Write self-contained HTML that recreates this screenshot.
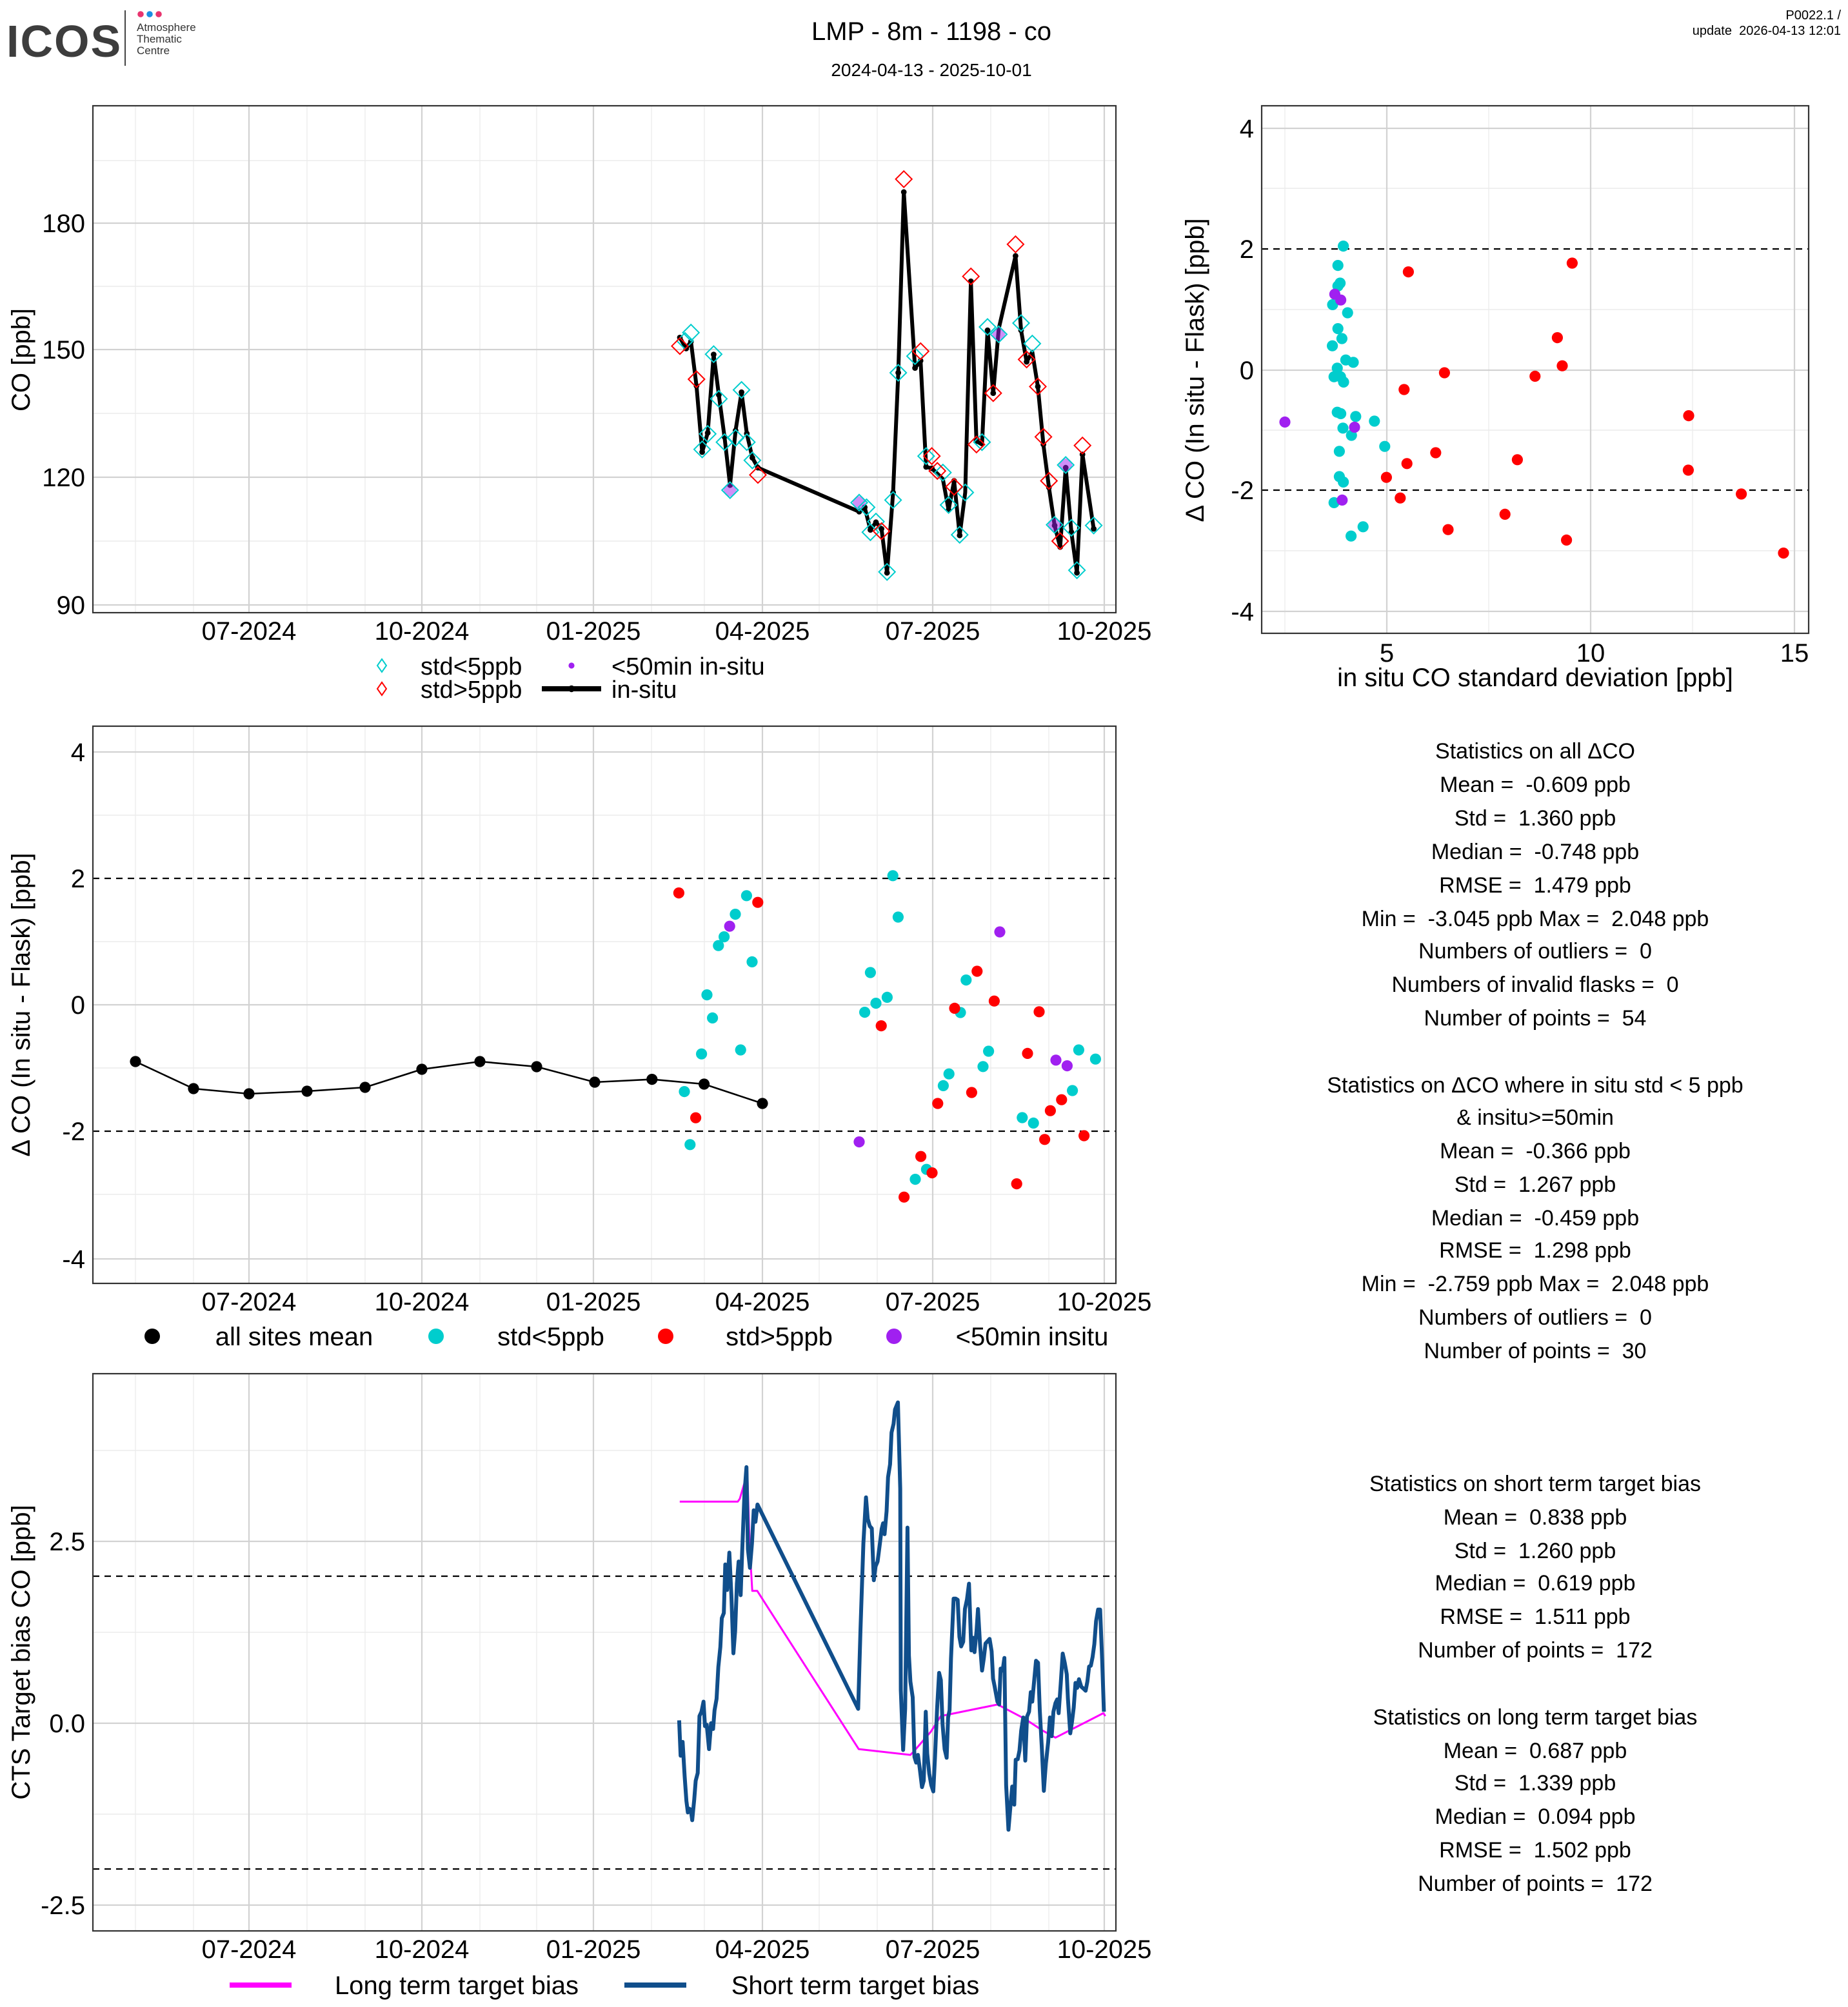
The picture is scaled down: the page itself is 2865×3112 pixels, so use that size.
<!DOCTYPE html>
<html><head><meta charset="utf-8"><style>
html,body{margin:0;padding:0;background:#fff}
svg{display:block}
text{font-family:"Liberation Sans",sans-serif;fill:#000;white-space:pre}
.tk{font-size:20px}
.ttl{font-size:20px}
.st{font-size:17px;text-anchor:middle}
.gmaj{stroke:#d2d2d2;stroke-width:1.1}
.gmin{stroke:#ececec;stroke-width:0.7}
.box{fill:none;stroke:#333;stroke-width:1.1}
.dash{stroke:#000;stroke-width:1.1;stroke-dasharray:5,4}
</style></head><body>
<svg width="2865" height="3112" viewBox="0 0 1432.5 1556" xmlns="http://www.w3.org/2000/svg" xml:space="preserve">
<rect width="1432.5" height="1556" fill="#fff"/>
<!-- header -->
<text x="5" y="44" style="font-size:35px;font-weight:bold;fill:#3d3d3d;letter-spacing:1px">ICOS</text>
<line x1="97" y1="8" x2="97" y2="51" stroke="#444" stroke-width="1"/>
<circle cx="109" cy="11" r="2.4" fill="#e8356f"/><circle cx="116" cy="11" r="2.4" fill="#1a8fe3"/><circle cx="123" cy="11" r="2.4" fill="#e8356f"/>
<text x="106" y="24" style="font-size:8.5px;fill:#333">Atmosphere</text>
<text x="106" y="33" style="font-size:8.5px;fill:#333">Thematic</text>
<text x="106" y="42" style="font-size:8.5px;fill:#333">Centre</text>
<text x="722" y="31" style="font-size:20px" text-anchor="middle">LMP - 8m - 1198 - co</text>
<text x="722" y="59" style="font-size:14px" text-anchor="middle">2024-04-13 - 2025-10-01</text>
<text x="1427" y="15" style="font-size:10px" text-anchor="end">P0022.1 /</text>
<text x="1427" y="27" style="font-size:10px" text-anchor="end">update  2026-04-13 12:01</text>

<!-- ========== PANEL 1 ========== -->
<g>
<g class="gmin">
<line x1="105" y1="82" x2="105" y2="475"/><line x1="150" y1="82" x2="150" y2="475"/><line x1="238" y1="82" x2="238" y2="475"/><line x1="283" y1="82" x2="283" y2="475"/><line x1="372" y1="82" x2="372" y2="475"/><line x1="416" y1="82" x2="416" y2="475"/><line x1="505" y1="82" x2="505" y2="475"/><line x1="546" y1="82" x2="546" y2="475"/><line x1="635" y1="82" x2="635" y2="475"/><line x1="680" y1="82" x2="680" y2="475"/><line x1="768" y1="82" x2="768" y2="475"/><line x1="813" y1="82" x2="813" y2="475"/>
<line x1="72" y1="124.5" x2="865" y2="124.5"/><line x1="72" y1="222" x2="865" y2="222"/><line x1="72" y1="320.5" x2="865" y2="320.5"/><line x1="72" y1="419.5" x2="865" y2="419.5"/>
</g>
<g class="gmaj">
<line x1="193" y1="82" x2="193" y2="475"/><line x1="327" y1="82" x2="327" y2="475"/><line x1="460" y1="82" x2="460" y2="475"/><line x1="591" y1="82" x2="591" y2="475"/><line x1="723" y1="82" x2="723" y2="475"/><line x1="856" y1="82" x2="856" y2="475"/>
<line x1="72" y1="173" x2="865" y2="173"/><line x1="72" y1="271" x2="865" y2="271"/><line x1="72" y1="370" x2="865" y2="370"/><line x1="72" y1="469" x2="865" y2="469"/>
</g>
<polyline fill="none" stroke="#000" stroke-width="3" stroke-linejoin="round" points="527,261.7 531.9,270.2 535.6,264.8 539.9,299.2 544.3,350.5 548.6,335.6 553.2,274.8 557.2,306.1 561.6,338.7 565.9,376.1 570.2,333.8 574.8,304.1 578.9,336.1 583.2,354.9 587.5,362.6 666,396.7 670.3,393.3 674.7,410.8 679,404.9 683.3,410 687.6,444.1 692.3,381.8 696.3,289 700.6,148.9 709.3,285.3 713.6,279.7 717.9,362 722.3,363.1 726.6,367.2 730.9,371.5 735.3,395.4 739.6,372.8 743.9,415.1 748.2,381.8 752.6,218.1 756.9,342 761.2,344.6 765.5,256.1 769.9,304.8 774.2,254.8 787.2,198.4 791.5,256.1 795.8,280.5 800.2,272.8 804.5,299.7 808.8,344.6 813.1,377.9 817.5,407.4 821.8,424.1 826.1,362.6 830.5,412.6 834.8,444.1 839.1,352.3 847.8,410"/>
<g fill="#000">
<circle cx="527" cy="261.7" r="2.2"/><circle cx="531.9" cy="270.2" r="2.2"/><circle cx="535.6" cy="264.8" r="2.2"/><circle cx="539.9" cy="299.2" r="2.2"/><circle cx="544.3" cy="350.5" r="2.2"/><circle cx="548.6" cy="335.6" r="2.2"/><circle cx="553.2" cy="274.8" r="2.2"/><circle cx="557.2" cy="306.1" r="2.2"/><circle cx="561.6" cy="338.7" r="2.2"/><circle cx="565.9" cy="376.1" r="2.2"/><circle cx="570.2" cy="333.8" r="2.2"/><circle cx="574.8" cy="304.1" r="2.2"/><circle cx="578.9" cy="336.1" r="2.2"/><circle cx="583.2" cy="354.9" r="2.2"/><circle cx="587.5" cy="362.6" r="2.2"/><circle cx="666" cy="396.7" r="2.2"/><circle cx="670.3" cy="393.3" r="2.2"/><circle cx="674.7" cy="410.8" r="2.2"/><circle cx="679" cy="404.9" r="2.2"/><circle cx="683.3" cy="410" r="2.2"/><circle cx="687.6" cy="444.1" r="2.2"/><circle cx="692.3" cy="381.8" r="2.2"/><circle cx="696.3" cy="289" r="2.2"/><circle cx="700.6" cy="148.9" r="2.2"/><circle cx="709.3" cy="285.3" r="2.2"/><circle cx="713.6" cy="279.7" r="2.2"/><circle cx="717.9" cy="362" r="2.2"/><circle cx="722.3" cy="363.1" r="2.2"/><circle cx="735.3" cy="395.4" r="2.2"/><circle cx="739.6" cy="372.8" r="2.2"/><circle cx="743.9" cy="415.1" r="2.2"/><circle cx="752.6" cy="218.1" r="2.2"/><circle cx="756.9" cy="342" r="2.2"/><circle cx="765.5" cy="256.1" r="2.2"/><circle cx="769.9" cy="304.8" r="2.2"/><circle cx="787.2" cy="198.4" r="2.2"/><circle cx="791.5" cy="256.1" r="2.2"/><circle cx="795.8" cy="280.5" r="2.2"/><circle cx="804.5" cy="299.7" r="2.2"/><circle cx="808.8" cy="344.6" r="2.2"/><circle cx="813.1" cy="377.9" r="2.2"/><circle cx="817.5" cy="407.4" r="2.2"/><circle cx="821.8" cy="424.1" r="2.2"/><circle cx="826.1" cy="362.6" r="2.2"/><circle cx="830.5" cy="412.6" r="2.2"/><circle cx="834.8" cy="444.1" r="2.2"/><circle cx="839.1" cy="352.3" r="2.2"/><circle cx="847.8" cy="410" r="2.2"/>
</g>
<g fill="#a020f0" fill-opacity="0.5">
<circle cx="565.9" cy="380" r="5"/><circle cx="666" cy="389.7" r="5"/><circle cx="774.2" cy="259.2" r="5"/><circle cx="817.5" cy="406.9" r="5"/><circle cx="826.1" cy="360.5" r="5"/>
</g>
<defs><path id="dm" d="M0,-6.3 L6.3,0 L0,6.3 L-6.3,0 Z"/></defs>
<g fill="none" stroke="#00cdcd" stroke-width="1">
<use href="#dm" x="531" y="264.3"/><use href="#dm" x="535.6" y="257.9"/><use href="#dm" x="544.3" y="348.4"/><use href="#dm" x="548.6" y="336.4"/><use href="#dm" x="553.2" y="274.6"/><use href="#dm" x="557.2" y="309.2"/><use href="#dm" x="561.6" y="342.8"/><use href="#dm" x="565.9" y="380"/><use href="#dm" x="570.2" y="339.5"/><use href="#dm" x="574.8" y="302.3"/><use href="#dm" x="578.9" y="342.8"/><use href="#dm" x="583.2" y="356.9"/><use href="#dm" x="666" y="389.7"/><use href="#dm" x="671.7" y="393.3"/><use href="#dm" x="674.7" y="412.6"/><use href="#dm" x="679" y="404.4"/><use href="#dm" x="687.6" y="443.4"/><use href="#dm" x="692.3" y="387.7"/><use href="#dm" x="696.3" y="289"/><use href="#dm" x="709.3" y="276.1"/><use href="#dm" x="717.9" y="353.6"/><use href="#dm" x="730.9" y="366.4"/><use href="#dm" x="735.3" y="391.5"/><use href="#dm" x="743.9" y="414.6"/><use href="#dm" x="748.2" y="381.8"/><use href="#dm" x="761.2" y="342.8"/><use href="#dm" x="765.5" y="253.5"/><use href="#dm" x="774.2" y="259.2"/><use href="#dm" x="791.5" y="250.5"/><use href="#dm" x="800.2" y="266.4"/><use href="#dm" x="817.5" y="406.9"/><use href="#dm" x="826.1" y="360.5"/><use href="#dm" x="830.5" y="409.2"/><use href="#dm" x="834.8" y="442.1"/><use href="#dm" x="847.8" y="407.4"/>
</g>
<g fill="none" stroke="#ff0000" stroke-width="1">
<use href="#dm" x="527" y="268.3"/><use href="#dm" x="539.9" y="294"/><use href="#dm" x="587.5" y="368.2"/><use href="#dm" x="683.3" y="411.8"/><use href="#dm" x="700.6" y="138.9"/><use href="#dm" x="713.6" y="272.3"/><use href="#dm" x="722.3" y="353.6"/><use href="#dm" x="726.6" y="365.1"/><use href="#dm" x="739.6" y="377.4"/><use href="#dm" x="752.6" y="214.3"/><use href="#dm" x="756.9" y="344.6"/><use href="#dm" x="769.9" y="304.8"/><use href="#dm" x="787.2" y="189.4"/><use href="#dm" x="795.8" y="278.7"/><use href="#dm" x="804.5" y="299.7"/><use href="#dm" x="808.8" y="338.7"/><use href="#dm" x="813.1" y="372.8"/><use href="#dm" x="821.8" y="419.5"/><use href="#dm" x="839.1" y="345.4"/>
</g>
<rect x="72" y="82" width="793" height="393" class="box"/>
<g class="tk" text-anchor="end"><text x="66" y="180">180</text><text x="66" y="278">150</text><text x="66" y="377">120</text><text x="66" y="476">90</text></g>
<g class="tk" text-anchor="middle"><text x="193" y="496">07-2024</text><text x="327" y="496">10-2024</text><text x="460" y="496">01-2025</text><text x="591" y="496">04-2025</text><text x="723" y="496">07-2025</text><text x="856" y="496">10-2025</text></g>
<text class="ttl" transform="translate(23,279) rotate(-90)" text-anchor="middle">CO [ppb]</text>
<!-- legend -->
<path d="M296,511 L299.5,516 L296,521 L292.5,516 Z" fill="none" stroke="#00cdcd" stroke-width="1"/>
<path d="M296,529 L299.5,534 L296,539 L292.5,534 Z" fill="none" stroke="#ff0000" stroke-width="1"/>
<circle cx="443" cy="516" r="2.3" fill="#a020f0"/>
<line x1="420" y1="534" x2="466" y2="534" stroke="#000" stroke-width="4"/><circle cx="443" cy="534" r="2.6" fill="#000"/>
<g style="font-size:19px"><text x="326" y="523">std&lt;5ppb</text><text x="326" y="541">std&gt;5ppb</text><text x="474" y="523">&lt;50min in-situ</text><text x="474" y="541">in-situ</text></g>
</g>

<!-- ========== SCATTER ========== -->
<g>
<g class="gmin">
<line x1="996" y1="82" x2="996" y2="491"/><line x1="1154" y1="82" x2="1154" y2="491"/><line x1="1312" y1="82" x2="1312" y2="491"/>
<line x1="978" y1="146" x2="1402" y2="146"/><line x1="978" y1="240" x2="1402" y2="240"/><line x1="978" y1="333.5" x2="1402" y2="333.5"/><line x1="978" y1="427" x2="1402" y2="427"/>
</g>
<g class="gmaj">
<line x1="1075" y1="82" x2="1075" y2="491"/><line x1="1233" y1="82" x2="1233" y2="491"/><line x1="1391" y1="82" x2="1391" y2="491"/>
<line x1="978" y1="99.5" x2="1402" y2="99.5"/><line x1="978" y1="287" x2="1402" y2="287"/><line x1="978" y1="474" x2="1402" y2="474"/>
</g>
<line x1="978" y1="193" x2="1402" y2="193" class="dash"/><line x1="978" y1="380" x2="1402" y2="380" class="dash"/>
<g fill="#00cdcd">
<circle cx="1041.3" cy="190.8" r="4.3"/><circle cx="1037.1" cy="205.8" r="4.3"/><circle cx="1038.8" cy="219.5" r="4.3"/><circle cx="1037.1" cy="221.8" r="4.3"/><circle cx="1033" cy="236.2" r="4.3"/><circle cx="1044.6" cy="242.5" r="4.3"/><circle cx="1037.1" cy="254.8" r="4.3"/><circle cx="1040.2" cy="262.5" r="4.3"/><circle cx="1032.8" cy="268.1" r="4.3"/><circle cx="1043.2" cy="279.1" r="4.3"/><circle cx="1049" cy="280.9" r="4.3"/><circle cx="1036.6" cy="285.4" r="4.3"/><circle cx="1034.1" cy="292.1" r="4.3"/><circle cx="1039.1" cy="292.1" r="4.3"/><circle cx="1041.5" cy="296.2" r="4.3"/><circle cx="1036.6" cy="319.6" r="4.3"/><circle cx="1039.3" cy="320.7" r="4.3"/><circle cx="1050.9" cy="322.9" r="4.3"/><circle cx="1065.4" cy="326.5" r="4.3"/><circle cx="1041" cy="331.9" r="4.3"/><circle cx="1047.6" cy="337.5" r="4.3"/><circle cx="1073.4" cy="346.1" r="4.3"/><circle cx="1038.2" cy="349.9" r="4.3"/><circle cx="1038.2" cy="369.5" r="4.3"/><circle cx="1041.3" cy="373.7" r="4.3"/><circle cx="1034.1" cy="389.7" r="4.3"/><circle cx="1056.6" cy="408.4" r="4.3"/><circle cx="1047.3" cy="415.6" r="4.3"/>
</g>
<g fill="#ff0000">
<circle cx="1091.7" cy="210.8" r="4.3"/><circle cx="1218.7" cy="204" r="4.3"/><circle cx="1207.2" cy="261.8" r="4.3"/><circle cx="1211" cy="283.6" r="4.3"/><circle cx="1119.7" cy="289" r="4.3"/><circle cx="1189.9" cy="291.7" r="4.3"/><circle cx="1088.4" cy="302" r="4.3"/><circle cx="1309" cy="322.3" r="4.3"/><circle cx="1112.9" cy="351" r="4.3"/><circle cx="1090.6" cy="359.4" r="4.3"/><circle cx="1176.2" cy="356.4" r="4.3"/><circle cx="1308.7" cy="364.5" r="4.3"/><circle cx="1074.7" cy="370.1" r="4.3"/><circle cx="1349.8" cy="383" r="4.3"/><circle cx="1085.4" cy="386.1" r="4.3"/><circle cx="1166.6" cy="398.7" r="4.3"/><circle cx="1122.5" cy="410.6" r="4.3"/><circle cx="1214.3" cy="418.7" r="4.3"/><circle cx="1382.5" cy="428.8" r="4.3"/>
</g>
<g fill="#a020f0">
<circle cx="1034.7" cy="228.1" r="4.3"/><circle cx="1039.3" cy="232.6" r="4.3"/><circle cx="996" cy="327.2" r="4.3"/><circle cx="1050" cy="331.2" r="4.3"/><circle cx="1040.4" cy="387.7" r="4.3"/>
</g>
<rect x="978" y="82" width="424" height="409" class="box"/>
<g class="tk" text-anchor="end"><text x="972" y="106.5">4</text><text x="972" y="200">2</text><text x="972" y="294">0</text><text x="972" y="387">-2</text><text x="972" y="481">-4</text></g>
<g class="tk" text-anchor="middle"><text x="1075" y="513">5</text><text x="1233" y="513">10</text><text x="1391" y="513">15</text></g>
<text class="ttl" x="1190" y="532" text-anchor="middle">in situ CO standard deviation [ppb]</text>
<text class="ttl" transform="translate(933,287) rotate(-90)" text-anchor="middle">Δ CO (In situ - Flask) [ppb]</text>
</g>

<!-- ========== PANEL 3 ========== -->
<g>
<g class="gmin">
<line x1="105" y1="563" x2="105" y2="995"/><line x1="150" y1="563" x2="150" y2="995"/><line x1="238" y1="563" x2="238" y2="995"/><line x1="283" y1="563" x2="283" y2="995"/><line x1="372" y1="563" x2="372" y2="995"/><line x1="416" y1="563" x2="416" y2="995"/><line x1="505" y1="563" x2="505" y2="995"/><line x1="546" y1="563" x2="546" y2="995"/><line x1="635" y1="563" x2="635" y2="995"/><line x1="680" y1="563" x2="680" y2="995"/><line x1="768" y1="563" x2="768" y2="995"/><line x1="813" y1="563" x2="813" y2="995"/>
<line x1="72" y1="632" x2="865" y2="632"/><line x1="72" y1="730" x2="865" y2="730"/><line x1="72" y1="828" x2="865" y2="828"/><line x1="72" y1="926" x2="865" y2="926"/>
</g>
<g class="gmaj">
<line x1="193" y1="563" x2="193" y2="995"/><line x1="327" y1="563" x2="327" y2="995"/><line x1="460" y1="563" x2="460" y2="995"/><line x1="591" y1="563" x2="591" y2="995"/><line x1="723" y1="563" x2="723" y2="995"/><line x1="856" y1="563" x2="856" y2="995"/>
<line x1="72" y1="583" x2="865" y2="583"/><line x1="72" y1="779" x2="865" y2="779"/><line x1="72" y1="976" x2="865" y2="976"/>
</g>
<line x1="72" y1="681" x2="865" y2="681" class="dash"/><line x1="72" y1="877" x2="865" y2="877" class="dash"/>
<polyline fill="none" stroke="#000" stroke-width="1.3" points="105,823 150,844 193,848 238,846 283,843 327,829 372,823 416,827 461,839 505.4,836.8 545.8,840.5 591,855.5"/>
<g fill="#000">
<circle cx="105" cy="823" r="4.3"/><circle cx="150" cy="844" r="4.3"/><circle cx="193" cy="848" r="4.3"/><circle cx="238" cy="846" r="4.3"/><circle cx="283" cy="843" r="4.3"/><circle cx="327" cy="829" r="4.3"/><circle cx="372" cy="823" r="4.3"/><circle cx="416" cy="827" r="4.3"/><circle cx="461" cy="839" r="4.3"/><circle cx="505.4" cy="836.8" r="4.3"/><circle cx="545.8" cy="840.5" r="4.3"/><circle cx="591" cy="855.5" r="4.3"/>
</g>
<g fill="#00cdcd">
<circle cx="578.7" cy="694.4" r="4.3"/><circle cx="570" cy="708.8" r="4.3"/><circle cx="561.3" cy="726.3" r="4.3"/><circle cx="556.9" cy="733.1" r="4.3"/><circle cx="583" cy="745.7" r="4.3"/><circle cx="548" cy="771.3" r="4.3"/><circle cx="552.3" cy="789.2" r="4.3"/><circle cx="543.8" cy="817.1" r="4.3"/><circle cx="574.1" cy="814" r="4.3"/><circle cx="530.5" cy="846.3" r="4.3"/><circle cx="534.9" cy="887.4" r="4.3"/><circle cx="692.1" cy="678.9" r="4.3"/><circle cx="696.2" cy="711" r="4.3"/><circle cx="674.7" cy="754" r="4.3"/><circle cx="748.9" cy="759.8" r="4.3"/><circle cx="687.7" cy="773.2" r="4.3"/><circle cx="679" cy="777.8" r="4.3"/><circle cx="670.3" cy="784.8" r="4.3"/><circle cx="744.5" cy="785" r="4.3"/><circle cx="766.3" cy="815" r="4.3"/><circle cx="836.2" cy="814" r="4.3"/><circle cx="849.2" cy="821.1" r="4.3"/><circle cx="762" cy="826.9" r="4.3"/><circle cx="735.6" cy="832.6" r="4.3"/><circle cx="731.2" cy="841.7" r="4.3"/><circle cx="831.3" cy="845.5" r="4.3"/><circle cx="792.4" cy="866.5" r="4.3"/><circle cx="801.1" cy="870.7" r="4.3"/><circle cx="718.2" cy="906.6" r="4.3"/><circle cx="709.5" cy="914.3" r="4.3"/>
</g>
<g fill="#ff0000">
<circle cx="526.2" cy="692.3" r="4.3"/><circle cx="587.4" cy="699.6" r="4.3"/><circle cx="539.3" cy="866.6" r="4.3"/><circle cx="757.4" cy="753" r="4.3"/><circle cx="770.7" cy="776.1" r="4.3"/><circle cx="740" cy="781.7" r="4.3"/><circle cx="805.5" cy="784.4" r="4.3"/><circle cx="683.1" cy="795.3" r="4.3"/><circle cx="796.5" cy="816.7" r="4.3"/><circle cx="753.2" cy="847" r="4.3"/><circle cx="822.9" cy="852.6" r="4.3"/><circle cx="726.9" cy="855.5" r="4.3"/><circle cx="814.2" cy="861.1" r="4.3"/><circle cx="809.8" cy="883.4" r="4.3"/><circle cx="840.3" cy="880.5" r="4.3"/><circle cx="713.8" cy="896.6" r="4.3"/><circle cx="722.5" cy="909.3" r="4.3"/><circle cx="788.1" cy="917.8" r="4.3"/><circle cx="700.8" cy="928.1" r="4.3"/>
</g>
<g fill="#a020f0">
<circle cx="565.6" cy="718.1" r="4.3"/><circle cx="775" cy="722.5" r="4.3"/><circle cx="818.5" cy="821.9" r="4.3"/><circle cx="827.2" cy="826.3" r="4.3"/><circle cx="666" cy="885.3" r="4.3"/>
</g>
<rect x="72" y="563" width="793" height="432" class="box"/>
<g class="tk" text-anchor="end"><text x="66" y="590">4</text><text x="66" y="688">2</text><text x="66" y="786">0</text><text x="66" y="884">-2</text><text x="66" y="983">-4</text></g>
<g class="tk" text-anchor="middle"><text x="193" y="1016">07-2024</text><text x="327" y="1016">10-2024</text><text x="460" y="1016">01-2025</text><text x="591" y="1016">04-2025</text><text x="723" y="1016">07-2025</text><text x="856" y="1016">10-2025</text></g>
<text class="ttl" transform="translate(23,779) rotate(-90)" text-anchor="middle">Δ CO (In situ - Flask) [ppb]</text>
<circle cx="118" cy="1036" r="6" fill="#000"/><circle cx="338" cy="1036" r="6" fill="#00cdcd"/><circle cx="516" cy="1036" r="6" fill="#ff0000"/><circle cx="693" cy="1036" r="6" fill="#a020f0"/>
<g class="ttl" text-anchor="middle"><text x="228" y="1043">all sites mean</text><text x="427" y="1043">std&lt;5ppb</text><text x="604" y="1043">std&gt;5ppb</text><text x="800" y="1043">&lt;50min insitu</text></g>
</g>

<!-- ========== PANEL 4 ========== -->
<g>
<g class="gmin">
<line x1="105" y1="1065" x2="105" y2="1497"/><line x1="150" y1="1065" x2="150" y2="1497"/><line x1="238" y1="1065" x2="238" y2="1497"/><line x1="283" y1="1065" x2="283" y2="1497"/><line x1="372" y1="1065" x2="372" y2="1497"/><line x1="416" y1="1065" x2="416" y2="1497"/><line x1="505" y1="1065" x2="505" y2="1497"/><line x1="546" y1="1065" x2="546" y2="1497"/><line x1="635" y1="1065" x2="635" y2="1497"/><line x1="680" y1="1065" x2="680" y2="1497"/><line x1="768" y1="1065" x2="768" y2="1497"/><line x1="813" y1="1065" x2="813" y2="1497"/>
<line x1="72" y1="1124.5" x2="865" y2="1124.5"/><line x1="72" y1="1265.5" x2="865" y2="1265.5"/><line x1="72" y1="1406.5" x2="865" y2="1406.5"/>
</g>
<g class="gmaj">
<line x1="193" y1="1065" x2="193" y2="1497"/><line x1="327" y1="1065" x2="327" y2="1497"/><line x1="460" y1="1065" x2="460" y2="1497"/><line x1="591" y1="1065" x2="591" y2="1497"/><line x1="723" y1="1065" x2="723" y2="1497"/><line x1="856" y1="1065" x2="856" y2="1497"/>
<line x1="72" y1="1195" x2="865" y2="1195"/><line x1="72" y1="1336" x2="865" y2="1336"/><line x1="72" y1="1477" x2="865" y2="1477"/>
</g>
<line x1="72" y1="1222" x2="865" y2="1222" class="dash"/><line x1="72" y1="1449" x2="865" y2="1449" class="dash"/>
<g transform="matrix(0.2249 0 0 0.2231 519.03 1080.55)">
<polyline fill="none" stroke="#ff00ff" stroke-width="3" vector-effect="non-scaling-stroke" stroke-linejoin="round" points="35,375 235,375 242,365 258,310 268,270 275,500 280,600 285,685 302,685 652,1235 830,1255 840,1245 900,1175 935,1120 1130,1080 1140,1085 1225,1130 1285,1170 1330,1195 1340,1190 1495,1110 1502,1120"/>
<polyline fill="none" stroke="#104e8b" stroke-width="6" vector-effect="non-scaling-stroke" stroke-linejoin="round" points="33,1135 38,1258 45,1210 52,1330 58,1415 63,1455 68,1442 73,1445 78,1482 85,1410 90,1345 97,1318 103,1120 110,1105 117,1070 122,1155 128,1150 136,1235 143,1145 150,1165 155,1100 162,1060 168,950 175,880 180,780 187,762 192,593 198,682 206,552 213,700 220,902 226,825 232,660 238,583 245,700 250,555 258,350 265,255 270,540 277,605 284,520 290,405 296,445 303,385 650,1095 658,820 668,520 677,360 683,435 690,460 697,468 704,648 710,600 717,583 725,520 731,470 736,450 741,488 748,408 753,290 760,245 765,135 772,105 777,55 787,30 795,330 797,1030 805,1238 812,1095 820,465 825,910 830,1000 838,1055 844,1262 850,1282 856,1255 862,1300 870,1367 876,1345 883,1105 888,1250 895,1320 902,1360 909,1382 915,1260 922,1095 929,970 935,995 941,1150 948,1235 955,1265 960,1125 965,1100 970,920 979,712 986,712 993,716 999,845 1005,878 1012,862 1018,748 1025,715 1032,660 1040,892 1046,848 1051,898 1058,825 1063,748 1070,870 1077,962 1083,920 1089,868 1096,860 1103,852 1110,895 1115,990 1120,1015 1130,1070 1136,1080 1141,955 1148,962 1154,918 1160,1360 1168,1515 1176,1420 1181,1365 1188,1428 1193,1272 1200,1270 1206,1240 1212,1170 1219,1125 1226,1275 1232,1122 1239,1105 1245,1037 1250,1070 1255,1015 1263,928 1270,935 1276,1100 1283,1230 1290,1380 1297,1285 1305,1210 1311,1125 1317,1190 1323,1105 1330,1075 1336,1062 1341,1110 1348,1010 1355,903 1362,935 1369,975 1373,1060 1381,1180 1387,1140 1393,1090 1399,1005 1405,1022 1411,992 1419,1018 1427,1025 1434,1032 1440,1000 1446,948 1452,945 1458,915 1464,870 1470,790 1477,750 1484,750 1491,925 1497,1105"/>
</g>
<rect x="72" y="1065" width="793" height="432" class="box"/>
<g class="tk" text-anchor="end"><text x="66" y="1202">2.5</text><text x="66" y="1343">0.0</text><text x="66" y="1484">-2.5</text></g>
<g class="tk" text-anchor="middle"><text x="193" y="1518">07-2024</text><text x="327" y="1518">10-2024</text><text x="460" y="1518">01-2025</text><text x="591" y="1518">04-2025</text><text x="723" y="1518">07-2025</text><text x="856" y="1518">10-2025</text></g>
<text class="ttl" transform="translate(23,1281) rotate(-90)" text-anchor="middle">CTS Target bias CO [ppb]</text>
<line x1="178" y1="1539" x2="226" y2="1539" stroke="#ff00ff" stroke-width="4"/>
<line x1="484" y1="1539" x2="532" y2="1539" stroke="#104e8b" stroke-width="4"/>
<g class="ttl" text-anchor="middle"><text x="354" y="1546">Long term target bias</text><text x="663" y="1546">Short term target bias</text></g>
</g>

<!-- ========== STATS ========== -->
<g class="st">
<text x="1190" y="588">Statistics on all ΔCO</text>
<text x="1190" y="614">Mean =  -0.609 ppb</text>
<text x="1190" y="640">Std =  1.360 ppb</text>
<text x="1190" y="666">Median =  -0.748 ppb</text>
<text x="1190" y="692">RMSE =  1.479 ppb</text>
<text x="1190" y="718">Min =  -3.045 ppb Max =  2.048 ppb</text>
<text x="1190" y="743">Numbers of outliers =  0</text>
<text x="1190" y="769">Numbers of invalid flasks =  0</text>
<text x="1190" y="795">Number of points =  54</text>
<text x="1190" y="847">Statistics on ΔCO where in situ std &lt; 5 ppb</text>
<text x="1190" y="872">&amp; insitu&gt;=50min</text>
<text x="1190" y="898">Mean =  -0.366 ppb</text>
<text x="1190" y="924">Std =  1.267 ppb</text>
<text x="1190" y="950">Median =  -0.459 ppb</text>
<text x="1190" y="975">RMSE =  1.298 ppb</text>
<text x="1190" y="1001">Min =  -2.759 ppb Max =  2.048 ppb</text>
<text x="1190" y="1027">Numbers of outliers =  0</text>
<text x="1190" y="1053">Number of points =  30</text>
<text x="1190" y="1156">Statistics on short term target bias</text>
<text x="1190" y="1182">Mean =  0.838 ppb</text>
<text x="1190" y="1208">Std =  1.260 ppb</text>
<text x="1190" y="1233">Median =  0.619 ppb</text>
<text x="1190" y="1259">RMSE =  1.511 ppb</text>
<text x="1190" y="1285">Number of points =  172</text>
<text x="1190" y="1337">Statistics on long term target bias</text>
<text x="1190" y="1363">Mean =  0.687 ppb</text>
<text x="1190" y="1388">Std =  1.339 ppb</text>
<text x="1190" y="1414">Median =  0.094 ppb</text>
<text x="1190" y="1440">RMSE =  1.502 ppb</text>
<text x="1190" y="1466">Number of points =  172</text>
</g>
</svg>
</body></html>
